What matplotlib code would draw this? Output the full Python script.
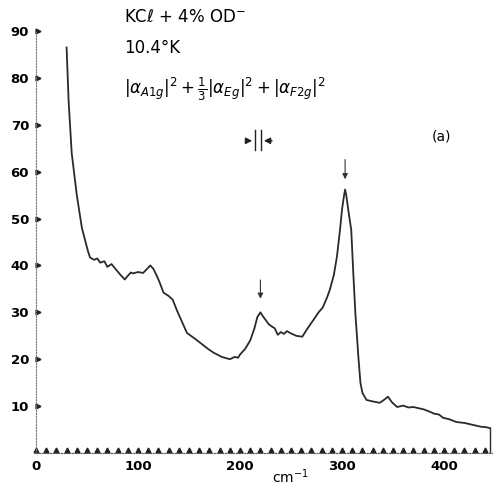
import matplotlib.pyplot as plt
import numpy as np

# curva (cm^-1, intensidad)
wn = [30, 32, 35, 40, 45, 48, 51, 53, 57, 60, 63, 67, 70, 74, 77, 82, 87,
      90, 93, 95, 100, 105, 109, 112, 115, 118, 121, 125, 130, 134, 138, 141,
      148, 155, 161, 168, 174, 182, 190, 195, 198, 200, 205, 210, 214, 217,
      220, 222, 225, 228, 231, 234, 237, 240, 243, 246, 249, 255, 261, 266,
      272, 277, 281, 285, 288, 292, 295, 298, 300, 302, 303, 304, 306, 309,
      311, 313, 316, 318, 320, 324, 330, 337, 341, 345, 349, 354, 360, 365,
      370, 374, 380, 386, 390, 395, 399, 405, 412, 420, 428, 436, 441, 445]
inten = [86.5, 75, 64, 55, 48, 45.5, 43, 41.7, 41.2, 41.5, 40.6, 40.9, 39.7,
         40.3, 39.5, 38.2, 37, 37.8, 38.5, 38.3, 38.6, 38.4, 39.3, 40, 39.3,
         38, 36.5, 34.2, 33.5, 32.7, 30.5, 29, 25.6, 24.5, 23.5, 22.3, 21.4,
         20.5, 20, 20.5, 20.3, 21, 22.2, 24, 26.5, 29, 30, 29.3, 28.4, 27.5,
         27, 26.6, 25.2, 25.8, 25.4, 26, 25.6, 25, 24.8, 26.5, 28.4, 30, 31,
         33, 34.8, 38, 41.9, 47.6, 52, 55, 56.2, 55.2, 52, 47.6, 38.5, 30,
         20.5, 15, 12.8, 11.3, 11, 10.7, 11.3, 12, 10.8, 9.8, 10.1, 9.7, 9.8,
         9.6, 9.3, 8.8, 8.4, 8.2, 7.5, 7.2, 6.6, 6.4, 6.0, 5.6, 5.5, 5.3]

xticks = [0, 100, 200, 300, 400]
yticks = [10, 20, 30, 40, 50, 60, 70, 80, 90]

fig = plt.figure(figsize=(4.93, 4.86), dpi=100)
ax = fig.add_axes([0.073, 0.068, 0.925, 0.868])

ax.plot(wn, inten, color='#2a2a2a', lw=1.3)
# linea final hasta el eje
ax.plot([wn[-1], wn[-1]], [inten[-1], 0], color='#2a2a2a', lw=1.0)

ax.set_xlim(0, 447)
ax.set_ylim(0, 90)

for s in ['top', 'right']:
    ax.spines[s].set_visible(False)
ax.spines['left'].set_linestyle((0, (1, 1.5)))
ax.spines['left'].set_color('#777777')
ax.spines['bottom'].set_linestyle((0, (1, 1.5)))
ax.spines['bottom'].set_color('#555555')

# marcas triangulares de los ejes
mx = np.arange(0, 450, 10)
ax.plot(mx, np.zeros_like(mx) + 0.6, ls='none', marker='^', ms=3.5, color='#222222', clip_on=False)
ax.plot(np.zeros(len(yticks)) + 2, yticks, ls='none', marker='>', ms=3.5, color='#222222', clip_on=False)

ax.set_xticks(xticks)
ax.set_yticks(yticks)
ax.tick_params(length=0, labelsize=9.5, pad=5)
for lab in ax.get_xticklabels() + ax.get_yticklabels():
    lab.set_fontweight('bold')
ax.text(0.557, -0.056, r'cm$^{-1}$', fontsize=10, ha='center', va='center',
        transform=ax.transAxes)

ax.text(86, 93, 'KC$\\ell$ + 4% OD$^{-}$', fontsize=12, va='center')
ax.text(86, 86.5, '10.4\u00b0K', fontsize=12, va='center')
ax.text(86, 77.5, r'$|\alpha_{A1g}|^2 + \frac{1}{3}|\alpha_{Eg}|^2 + |\alpha_{F2g}|^2$',
        fontsize=12, va='center')
ax.text(397, 67.5, '(a)', fontsize=10, ha='center', va='center')

# flechas de los picos
ax.annotate('', xy=(220, 32.3), xytext=(220, 37.5),
            arrowprops=dict(arrowstyle='-|>', color='#333333', lw=0.8, mutation_scale=8))
ax.annotate('', xy=(303, 57.8), xytext=(303, 63.2),
            arrowprops=dict(arrowstyle='-|>', color='#333333', lw=0.8, mutation_scale=8))

# resolucion espectral
ax.annotate('', xy=(214.7, 66.6), xytext=(204, 66.6),
            arrowprops=dict(arrowstyle='-|>', color='#222222', lw=1.1, mutation_scale=9))
ax.annotate('', xy=(220.6, 66.6), xytext=(234, 66.6),
            arrowprops=dict(arrowstyle='-|>', color='#222222', lw=1.1, mutation_scale=9))
ax.plot([214.7, 214.7], [64.6, 69], color='#222222', lw=1)
ax.plot([220.6, 220.6], [64.6, 69], color='#222222', lw=1)

fig.savefig('out.png', dpi=100)
